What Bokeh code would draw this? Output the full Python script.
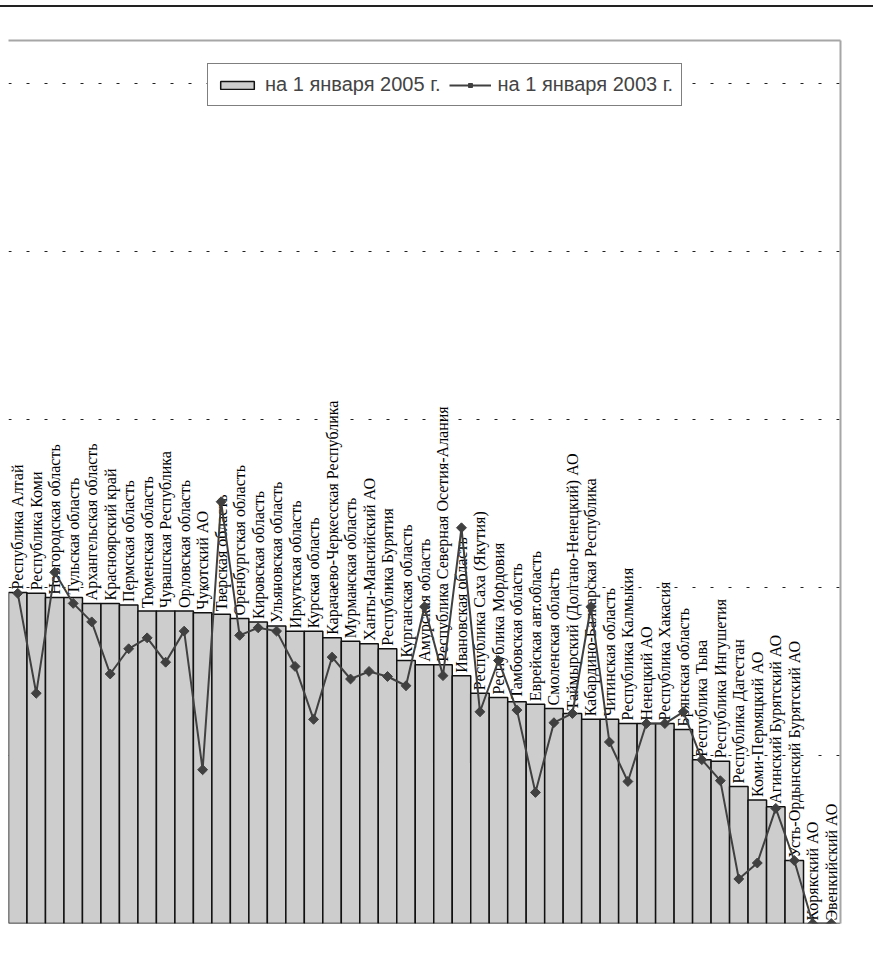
import numpy as np
from bokeh.plotting import figure
from bokeh.models import (ColumnDataSource, FactorRange, Range1d, FixedTicker,
                          Legend, LegendItem, Div)
from bokeh.layouts import column
from bokeh.core.properties import value
from bokeh.embed import file_html
from bokeh.resources import INLINE

regions = [
    "Республика Алтай", "Республика Коми", "Новгородская область", "Тульская область",
    "Архангельская область", "Красноярский край", "Пермская область", "Тюменская область",
    "Чувашская Республика", "Орловская область", "Чукотский АО", "Тверская область",
    "Оренбургская область", "Кировская область", "Ульяновская область", "Иркутская область",
    "Курская область", "Карачаево-Черкесская Республика", "Мурманская область",
    "Ханты-Мансийский АО", "Республика Бурятия", "Курганская область", "Амурская область",
    "Республика Северная Осетия-Алания", "Ивановская область", "Республика Саха (Якутия)",
    "Республика Мордовия", "Тамбовская область", "Еврейская авт.область", "Смоленская область",
    "Таймырский (Долгано-Ненецкий) АО", "Кабардино-Балкарская Республика", "Читинская область",
    "Республика Калмыкия", "Ненецкий АО", "Республика Хакасия", "Брянская область",
    "Республика Тыва", "Республика Ингушетия", "Республика Дагестан", "Коми-Пермяцкий АО",
    "Агинский Бурятский АО", "Усть-Ордынский Бурятский АО", "Корякский АО", "Эвенкийский АО",
]

values_2005 = [
    39.4, 39.3, 38.8, 38.8, 38.1, 38.1, 37.9, 37.2, 37.2, 37.2, 37.0, 36.8, 36.3, 35.9, 35.4,
    34.8, 34.8, 34.0, 33.6, 33.3, 32.7, 31.3, 30.8, 30.8, 29.5, 27.4, 26.9, 26.4, 26.1, 25.6,
    25.0, 24.3, 24.3, 23.8, 23.8, 23.8, 23.1, 19.5, 19.3, 16.3, 14.7, 13.9, 7.5, 0.0, 0.0,
]

values_2003 = [
    39.3, 27.4, 41.8, 38.1, 35.9, 29.7, 32.7, 34.0, 31.1, 34.8, 18.3, 50.2, 34.3, 35.2, 34.8,
    30.6, 24.3, 31.7, 29.1, 30.0, 29.4, 28.3, 37.7, 29.5, 47.1, 25.2, 31.3, 25.4, 15.6, 23.9,
    25.0, 37.7, 21.6, 16.9, 23.8, 23.8, 25.2, 19.5, 17.0, 5.3, 7.2, 13.7, 7.5, 0.0, 0.0,
]

grid_ticks = [20, 40, 60, 80, 100]
legend_labels = ["на 1 января 2005 г.", "на 1 января 2003 г."]

src = ColumnDataSource(dict(region=regions, v2005=values_2005, v2003=values_2003))

p = figure(
    x_range=FactorRange(factors=regions), y_range=Range1d(0, 105.1),
    width=873, height=962, output_backend="svg", toolbar_location=None,
    x_axis_location="above", y_axis_location="right",
    min_border_left=8, min_border_right=33, min_border_top=33, min_border_bottom=46,
    margin=0,
)
p.outline_line_color = None
p.background_fill_color = "white"
p.border_fill_color = "white"

p.xaxis[0].ticker = FixedTicker(ticks=[])
p.yaxis[0].ticker = FixedTicker(ticks=[])
for ax in (p.xaxis[0], p.yaxis[0]):
    ax.axis_line_color = "#a6a6a6"
    ax.axis_line_width = 2
    ax.major_tick_line_color = None
    ax.minor_tick_line_color = None
    ax.major_label_standoff = 0

p.xgrid.grid_line_color = None
p.ygrid.ticker = FixedTicker(ticks=grid_ticks)
p.ygrid.grid_line_color = "#222222"
p.ygrid.grid_line_dash = "3 15"
p.ygrid.grid_line_width = 1

bars = p.vbar(x="region", top="v2005", width=1.0, source=src,
              fill_color="#cdcdcd", line_color="#111111", line_width=1.5)

p.text(x="region", y="v2005", text="region", source=src, angle=np.pi / 2,
       text_align="left", text_baseline="middle", y_offset=-3,
       text_font=value("Liberation Serif"), text_font_size="16px", text_color="black")

line_r = p.line(x="region", y="v2003", source=src, line_color="#404040", line_width=2)
sc_r = p.scatter(x="region", y="v2003", source=src, marker="square", angle=np.pi / 4,
                 size=7, fill_color="#404040", line_color="#404040")

legend = Legend(
    items=[LegendItem(label=legend_labels[0], renderers=[bars]),
           LegendItem(label=legend_labels[1], renderers=[line_r, sc_r])],
    orientation="horizontal", location=(199, 817),
    border_line_color="black", border_line_width=1,
    background_fill_color="white", background_fill_alpha=1.0,
    label_text_font="Liberation Sans", label_text_font_size="20px",
    glyph_width=42, glyph_height=10, label_standoff=7, spacing=8,
    padding=8, margin=0, label_height=25,
)
p.add_layout(legend)

# thin dark rule across the top of the page
top_rule = Div(text="", width=873, height=2, margin=(5, 0, 0, 0),
               styles={"background-color": "#222222"})

layout = column(top_rule, p, spacing=0)
open("out.html", "w").write(file_html(layout, INLINE))
